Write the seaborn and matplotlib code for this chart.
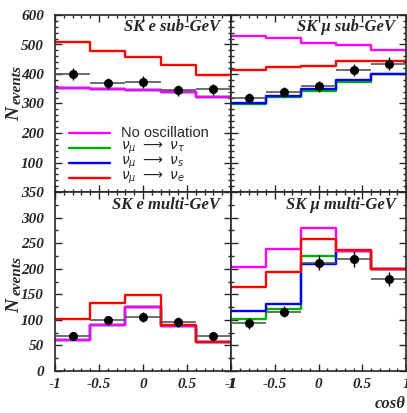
import numpy as np
import matplotlib
matplotlib.use("Agg")
import matplotlib.pyplot as plt
from matplotlib.ticker import MultipleLocator
from matplotlib.lines import Line2D
import seaborn as sns

# Zenith-angle bins (cos theta)
edges = [-1.0, -0.6, -0.2, 0.2, 0.6, 1.0]
centers = [-0.8, -0.4, 0.0, 0.4, 0.8]

# SK e sub-GeV
e_sub_noosc = [351, 348, 345, 340, 321]
e_sub_tau = [351, 348, 345, 340, 321]
e_sub_ster = [351, 348, 345, 340, 321]
e_sub_nue = [510, 478, 458, 431, 395]
e_sub_data = [400, 368, 373, 345, 348]
e_sub_err = [20, 19, 19, 18, 18]

# SK mu sub-GeV
mu_sub_noosc = [530, 523, 506, 498, 482]
mu_sub_tau = [298, 321, 343, 374, 399]
mu_sub_ster = [303, 325, 348, 378, 399]
mu_sub_nue = [412, 425, 427, 443, 444]
mu_sub_data = [319, 339, 358, 414, 435]
mu_sub_err = [17, 18, 19, 20, 21]

# SK e multi-GeV
e_multi_noosc = [60, 90, 126, 88, 57]
e_multi_tau = [60, 90, 126, 88, 57]
e_multi_ster = [60, 90, 126, 88, 57]
e_multi_nue = [101, 132, 148, 90, 57]
e_multi_data = [69, 99, 106, 96, 69]
e_multi_err = [7, 9, 10, 9, 7]

# SK mu multi-GeV
mu_multi_noosc = [204, 238, 279, 235, 200]
mu_multi_tau = [102, 122, 224, 235, 200]
mu_multi_ster = [118, 131, 210, 235, 200]
mu_multi_nue = [164, 193, 259, 236, 200]
mu_multi_data = [93, 116, 212, 219, 180]
mu_multi_err = [10, 11, 14, 15, 13]

top_yticks = [100, 200, 300, 400, 500, 600]
bottom_yticks = [0, 50, 100, 150, 200, 250, 300, 350]
xticks = [-1, -0.5, 0, 0.5, 1]
xtick_labels = ["-1", "-0.5", "0", "0.5", "1"]

series_colors = {"tau": "#00b000", "ster": "#0000ff", "noosc": "#ff00ff", "nue": "#ff0000"}
legend_order = ["noosc", "tau", "ster", "nue"]
legend_labels = {
    "noosc": "No oscillation",
    "tau": r"$\nu_\mu\ \longrightarrow\ \nu_\tau$",
    "ster": r"$\nu_\mu\ \longrightarrow\ \nu_s$",
    "nue": r"$\nu_\mu\ \longrightarrow\ \nu_e$",
}

sns.set_style("ticks")
plt.rcParams["font.family"] = ["Liberation Serif", "DejaVu Serif"]
plt.rcParams["mathtext.fontset"] = "dejavusans"

W, H = 407, 413
fig = plt.figure(figsize=(W / 100, H / 100), dpi=100)


def add_ax(x0, y0, x1, y1):
    return fig.add_axes([x0 / W, 1 - y1 / H, (x1 - x0) / W, (y1 - y0) / H])


ax_tl = add_ax(55, 15, 231, 192)
ax_tr = add_ax(231, 15, 406, 192)
ax_bl = add_ax(55, 192, 231, 371)
ax_br = add_ax(231, 192, 406, 371)

panels = [
    (ax_tl, "SK e sub-GeV", e_sub_noosc, e_sub_tau, e_sub_ster, e_sub_nue, e_sub_data, e_sub_err),
    (ax_tr, "SK \u03bc sub-GeV", mu_sub_noosc, mu_sub_tau, mu_sub_ster, mu_sub_nue, mu_sub_data, mu_sub_err),
    (ax_bl, "SK e multi-GeV", e_multi_noosc, e_multi_tau, e_multi_ster, e_multi_nue, e_multi_data, e_multi_err),
    (ax_br, "SK \u03bc multi-GeV", mu_multi_noosc, mu_multi_tau, mu_multi_ster, mu_multi_nue, mu_multi_data, mu_multi_err),
]

tick_font = dict(family="Liberation Serif", weight="bold", style="italic", size=11)
title_font = dict(family="Liberation Serif", weight="bold", style="italic", size=12)

for ax, title, noosc, tau, ster, nue, data, err in panels:
    curves = {"tau": tau, "ster": ster, "noosc": noosc, "nue": nue}
    for key in ["tau", "ster", "noosc", "nue"]:
        sns.histplot(x=centers, weights=curves[key], bins=edges, element="step",
                     fill=False, color=series_colors[key], linewidth=1.7, ax=ax)
    # measured points: grey bin-width bars, black statistical errors
    ax.errorbar(centers, data, xerr=0.2, fmt="none", ecolor="#555555", elinewidth=1.2, capsize=0, zorder=4)
    ax.errorbar(centers, data, yerr=err, fmt="o", color="black", ms=5.5, elinewidth=1.0, capsize=0, zorder=5)
    ax.set_xlim(-1, 1)
    ax.set_xlabel("")
    ax.set_ylabel("")
    ax.text(0.94, 0.93, title, transform=ax.transAxes, ha="right", va="center", **title_font)
    ax.set_xticks(xticks)
    ax.xaxis.set_minor_locator(MultipleLocator(0.1))
    ax.tick_params(which="both", direction="in", top=True, right=True, bottom=True, left=True, width=1)
    ax.tick_params(which="major", length=5)
    ax.tick_params(which="minor", length=2.5)
    for s in ax.spines.values():
        s.set_linewidth(1.2)

for ax in (ax_tl, ax_tr):
    ax.set_ylim(0, 600)
    ax.set_yticks(top_yticks)
    ax.yaxis.set_minor_locator(MultipleLocator(20))
    ax.set_xticklabels([])
for ax in (ax_bl, ax_br):
    ax.set_ylim(0, 350)
    ax.set_yticks(bottom_yticks)
    ax.yaxis.set_minor_locator(MultipleLocator(25))
    ax.set_xticklabels(xtick_labels, fontdict=tick_font)
    ax.tick_params(axis="x", pad=5)
for ax in (ax_tr, ax_br):
    ax.set_yticklabels([])

ax_tl.set_yticklabels([str(v) for v in top_yticks], fontdict=tick_font)
ax_bl.set_yticklabels([str(v) for v in bottom_yticks], fontdict=tick_font)
ax_tl.tick_params(axis="y", pad=8)
ax_bl.tick_params(axis="y", pad=8)

# legend block in the upper-left panel (rows spaced in pixels)
for i, key in enumerate(legend_order):
    yrow = 1 - (133 + 15 * i) / H
    fig.add_artist(Line2D([69 / W, 110 / W], [yrow, yrow], color=series_colors[key], lw=1.7))
    size = 10.5 if key == "noosc" else 10
    fig.text(121 / W, yrow, legend_labels[key], ha="left", va="center",
             family="Liberation Sans", size=size)

# axis labels
for yN, yev in [(114, 85), (306, 276)]:
    fig.text(15 / W, 1 - yN / H, "N", rotation=90, ha="center", va="center",
             family="Liberation Serif", weight="bold", style="italic", size=14)
    fig.text(17 / W, 1 - yev / H, "events", rotation=90, ha="center", va="center",
             family="Liberation Serif", weight="bold", style="italic", size=11)
fig.text(390 / W, 1 - 404 / H, "cos\u03b8", ha="center", va="center",
         family="Liberation Serif", weight="bold", style="italic", size=12)

fig.savefig("out.png", dpi=100)
